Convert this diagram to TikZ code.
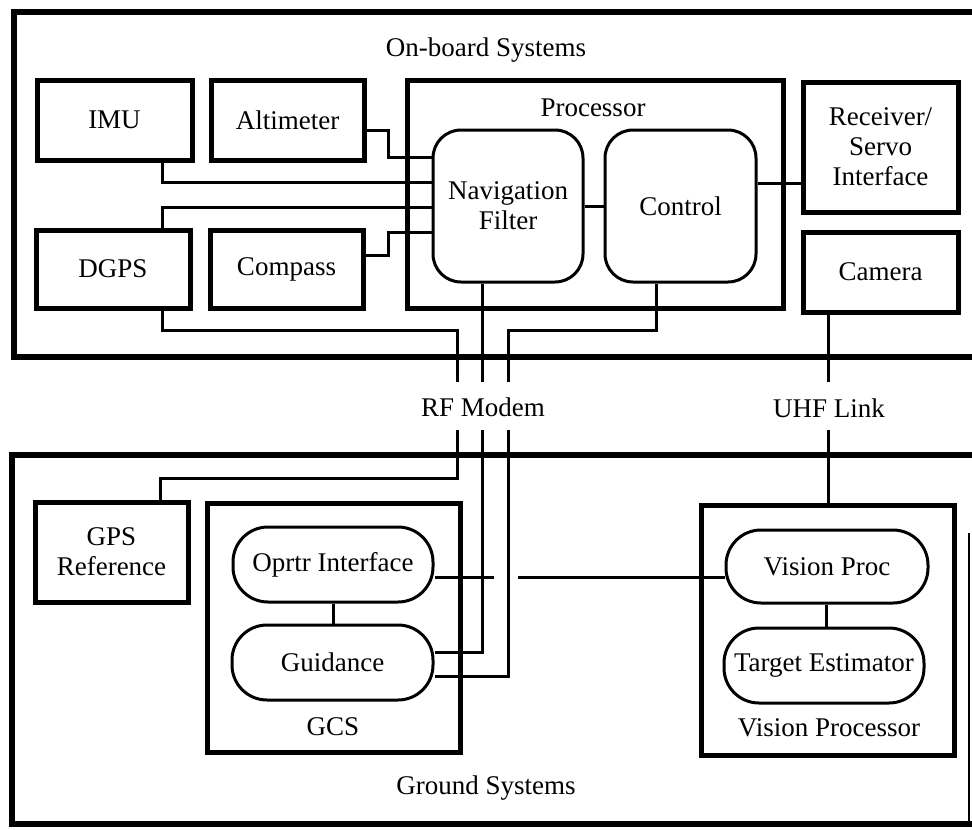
\documentclass[tikz,border=0pt]{standalone}
\usepackage{fontspec}
\setmainfont{Liberation Serif}
\usetikzlibrary{calc}
\begin{document}
\begin{tikzpicture}[x=1pt,y=-1pt,
  every node/.style={font=\fontsize{27}{30}\selectfont, inner sep=0pt},
  box/.style={draw, line width=5pt, rectangle, align=center},
  pill/.style={draw, line width=3pt, rounded corners=35pt, align=center},
  rbox/.style={draw, line width=3pt, rounded corners=28pt, align=center},
  sysframe/.style={line width=6pt},
  conn/.style={line width=3pt},
  lbl/.style={align=center}]
\fill[white] (0,0) rectangle (972,830);
\useasboundingbox (0,0) rectangle (972,830);

% system frames
\draw[sysframe] (975,12) -- (14,12) -- (14,357) -- (975,357);
\draw[sysframe] (975,455) -- (12,455) -- (12,824) -- (975,824);
\draw[line width=1.5pt] (969,533) -- (969,824);

\node[lbl] (onboard) at (486,50) {On-board Systems};
\node[lbl] (ground) at (486,788) {Ground Systems};
\node[lbl] (rf) at (483,407) {RF Modem};
\node[lbl] (uhf) at (829,408) {UHF Link};

% on-board units
\node[box, minimum width=155pt, minimum height=80pt] (imu) at (114.5,120) {IMU};
\node[box, minimum width=153pt, minimum height=80pt] (alt) at (287.5,120) {Altimeter};
\node[box, minimum width=154pt, minimum height=78pt] (dgps) at (113,269) {DGPS};
\node[box, minimum width=153pt, minimum height=78pt] (comp) at (286.5,269) {Compass};
\node[box, minimum width=376pt, minimum height=228pt] (proc) at (595,194) {};
\node[lbl] (proclbl) at (593,108) {Processor};
\node[rbox, minimum width=150pt, minimum height=152pt] (nav) at (508,206) {Navigation\\Filter};
\node[rbox, minimum width=151pt, minimum height=152pt] (ctrl) at (680.5,206) {Control};
\node[box, minimum width=155pt, minimum height=130pt] (rx) at (880.5,147) {Receiver/\\Servo\\Interface};
\node[box, minimum width=155pt, minimum height=80pt] (cam) at (880.5,272) {Camera};

% ground units
\node[box, minimum width=153pt, minimum height=100pt] (gps) at (111.5,552) {GPS\\Reference};
\node[box, minimum width=253pt, minimum height=249pt] (gcs) at (333.5,627.5) {};
\node[lbl] (gcslbl) at (333,727) {GCS};
\node[pill, minimum width=200pt, minimum height=75pt] (oi) at (333,564.5) {Oprtr Interface};
\node[pill, minimum width=201pt, minimum height=75pt] (guid) at (332.5,662.5) {Guidance};
\node[box, minimum width=253pt, minimum height=250pt] (vpbox) at (827.5,630) {};
\node[lbl] (vplbl) at (829,728) {Vision Processor};
\node[pill, minimum width=202pt, minimum height=73pt] (vproc) at (827,566.5) {Vision Proc};
\node[pill, minimum width=200pt, minimum height=75pt] (te) at (824,665.5) {Target Estimator};

% link break points
\coordinate (a1) at (457,382); \coordinate (b1) at (457,430);
\coordinate (a2) at (482,382); \coordinate (b2) at (482,430);
\coordinate (a3) at (508,382); \coordinate (b3) at (508,430);
\coordinate (a4) at (828,382); \coordinate (b4) at (828,430);

% on-board connectors
\draw[conn] ($(alt.east)+(0,10)$) -- ++(22,0) |- (nav.west |- 0,157);
\draw[conn] (imu.south -| 162,0) |- (nav.west |- 0,182);
\draw[conn] (dgps.north -| 162,0) |- (nav.west |- 0,207);
\draw[conn] ($(comp.east)+(0,-14)$) -- ++(23,0) |- (nav.west |- 0,232);
\draw[conn] (nav.east) -- (ctrl.west);
\draw[conn] (ctrl.east |- 0,183) -- (rx.west |- 0,183);
\draw[conn] (dgps.south -| 162,0) |- (457,330) -- (a1);
\draw[conn] (nav.south -| 482,0) -- (a2);
\draw[conn] (ctrl.south -| 656,0) |- (508,330) -- (a3);
\draw[conn] (cam.south -| 828,0) -- (a4);

% ground connectors
\draw[conn] (b1) -- (457,478) -| (gps.north -| 160,0);
\draw[conn] (b2) |- (guid.east |- 0,652);
\draw[conn] (b3) |- (guid.east |- 0,676);
\draw[conn] (b4) -- (vpbox.north -| 828,0);
\draw[conn] (oi.east |- 0,577) -- (494,577);
\draw[conn] (518,577) -- (vproc.west |- 0,577);
\draw[conn] (oi.south) -- (oi.south |- guid.north);
\draw[conn] (vproc.south -| 826,0) -- (te.north -| 826,0);
\end{tikzpicture}
\end{document}
